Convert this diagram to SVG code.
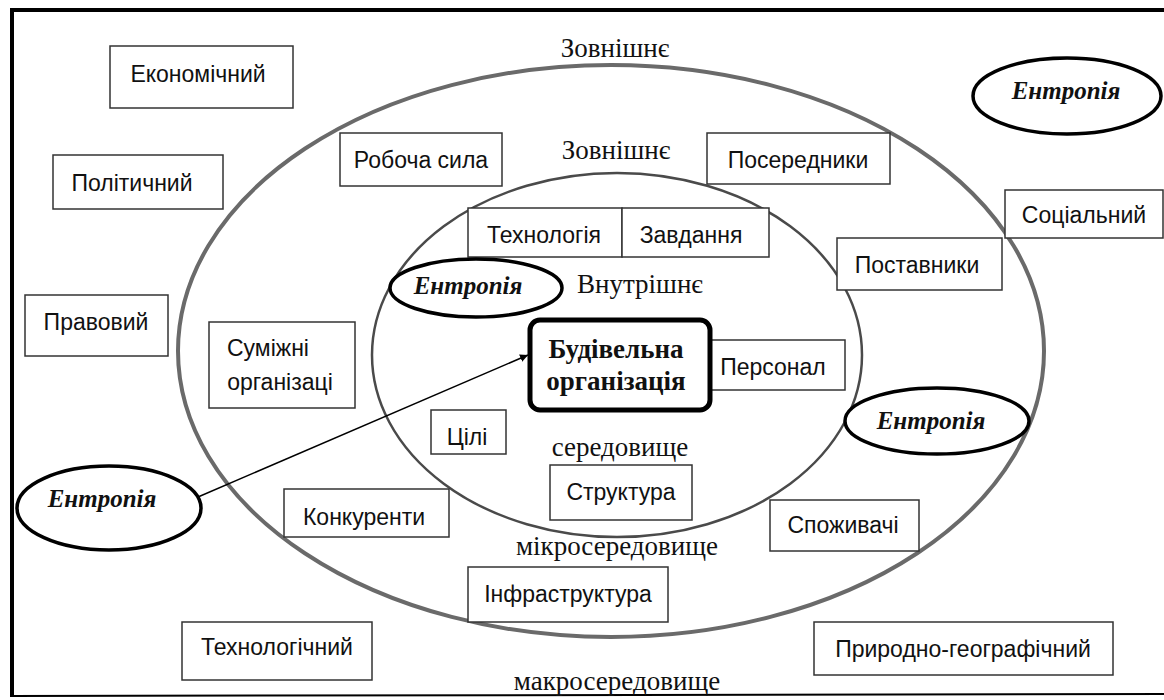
<svg xmlns="http://www.w3.org/2000/svg" width="1164" height="700" viewBox="0 0 1164 700">
<style>
.box{fill:#fff;stroke:#333;stroke-width:1.5}
.t{font-family:"Liberation Sans",Arial,sans-serif;font-size:23px;fill:#111;text-anchor:middle}
.s{font-family:"Liberation Serif","Times New Roman",serif;font-size:27px;fill:#111;text-anchor:middle}
.ent{fill:#fff;stroke:#000;stroke-width:3.5}
.et{font-family:"Liberation Serif","Times New Roman",serif;font-size:25px;font-weight:bold;font-style:italic;fill:#111;text-anchor:middle}
</style>
<defs>
<marker id="ah" viewBox="0 0 10 10" refX="10" refY="5" markerWidth="8" markerHeight="8" markerUnits="userSpaceOnUse" orient="auto"><path d="M0,0 L10,5 L0,10 z" fill="#000"/></marker>
</defs>
<rect width="1164" height="700" fill="#fff"/>
<g id="frame" fill="none" stroke="#000">
<line x1="10" y1="10" x2="1164" y2="10" stroke-width="4"/>
<line x1="12" y1="8" x2="12" y2="697" stroke-width="4"/>
<line x1="10" y1="696" x2="1164" y2="694" stroke-width="2"/>
</g>
<g id="rings" fill="none">
<ellipse id="macro" cx="611" cy="351" rx="433" ry="286" stroke="#6a6a6a" stroke-width="4"/>
<ellipse id="micro" cx="617" cy="355" rx="245" ry="182" stroke="#4a4a4a" stroke-width="2.5"/>
</g>
<g id="labels">
<text class="s" x="615" y="57">Зовнішнє</text>
<text class="s" x="616" y="159">Зовнішнє</text>
<text class="s" x="640" y="293">Внутрішнє</text>
<text class="s" x="620" y="456">середовище</text>
<text class="s" x="617" y="555">мікросередовище</text>
<text class="s" x="617" y="690">макросередовище</text>
</g>
<g id="connectors">
<line x1="198" y1="497" x2="528" y2="355" stroke="#000" stroke-width="1.5" marker-end="url(#ah)"/>
</g>
<g id="n-econ"><rect class="box" x="110" y="46" width="183" height="62"/><text class="t" x="198" y="82">Економічний</text></g>
<g id="n-polit"><rect class="box" x="53" y="155" width="170" height="54"/><text class="t" x="132" y="191">Політичний</text></g>
<g id="n-labor"><rect class="box" x="340" y="133" width="162" height="53"/><text class="t" x="421" y="168">Робоча сила</text></g>
<g id="n-interm"><rect class="box" x="707" y="133" width="183" height="51"/><text class="t" x="798" y="168">Посередники</text></g>
<g id="n-social"><rect class="box" x="1005" y="190" width="158" height="48"/><text class="t" x="1084" y="223">Соціальний</text></g>
<g id="n-suppl"><rect class="box" x="837" y="238" width="165" height="52"/><text class="t" x="917" y="273">Поставники</text></g>
<g id="n-tech"><rect class="box" x="468" y="208" width="154" height="49"/><text class="t" x="544" y="243">Технологія</text></g>
<g id="n-task"><rect class="box" x="622" y="208" width="147" height="49"/><text class="t" x="691" y="243">Завдання</text></g>
<g id="n-legal"><rect class="box" x="25" y="295" width="143" height="61"/><text class="t" x="96" y="330">Правовий</text></g>
<g id="n-adj"><rect class="box" x="209" y="322" width="146" height="86"/><text class="t" x="268" y="356">Суміжні</text><text class="t" x="280" y="390">організаці</text></g>
<g id="n-pers"><rect class="box" x="710" y="340" width="135" height="50"/><text class="t" x="773" y="375">Персонал</text></g>
<g id="n-org"><rect x="530" y="320" width="180" height="90" rx="10" fill="#fff" stroke="#000" stroke-width="5"/>
<text x="616" y="358" font-family="Liberation Serif,Times New Roman,serif" font-size="27" font-weight="bold" fill="#111" text-anchor="middle">Будівельна</text>
<text x="616" y="390" font-family="Liberation Serif,Times New Roman,serif" font-size="27" font-weight="bold" fill="#111" text-anchor="middle">організація</text></g>
<g id="n-goals"><rect class="box" x="431" y="410" width="75" height="44"/><text class="t" x="467" y="445">Цілі</text></g>
<g id="n-struct"><rect class="box" x="550" y="465" width="142" height="55"/><text class="t" x="621" y="500">Структура</text></g>
<g id="n-comp"><rect class="box" x="284" y="489" width="165" height="48"/><text class="t" x="364" y="525">Конкуренти</text></g>
<g id="n-cons"><rect class="box" x="770" y="500" width="149" height="51"/><text class="t" x="843" y="533">Споживачі</text></g>
<g id="n-infra"><rect class="box" x="468" y="567" width="200" height="55"/><text class="t" x="568" y="602">Інфраструктура</text></g>
<g id="n-techn"><rect class="box" x="182" y="622" width="190" height="58"/><text class="t" x="277" y="655">Технологічний</text></g>
<g id="n-nat"><rect class="box" x="814" y="622" width="299" height="53"/><text class="t" x="963" y="657">Природно-географічний</text></g>
<g id="e-tr"><ellipse class="ent" cx="1067" cy="96" rx="94" ry="38"/><text class="et" x="1066" y="99">Ентропія</text></g>
<g id="e-in"><ellipse class="ent" cx="476" cy="288" rx="86" ry="29"/><text class="et" x="468" y="294">Ентропія</text></g>
<g id="e-r"><ellipse class="ent" cx="937" cy="421" rx="92" ry="33"/><text class="et" x="931" y="429">Ентропія</text></g>
<g id="e-bl"><ellipse class="ent" cx="109" cy="508" rx="92" ry="42"/><text class="et" x="102" y="507">Ентропія</text></g>
</svg>
